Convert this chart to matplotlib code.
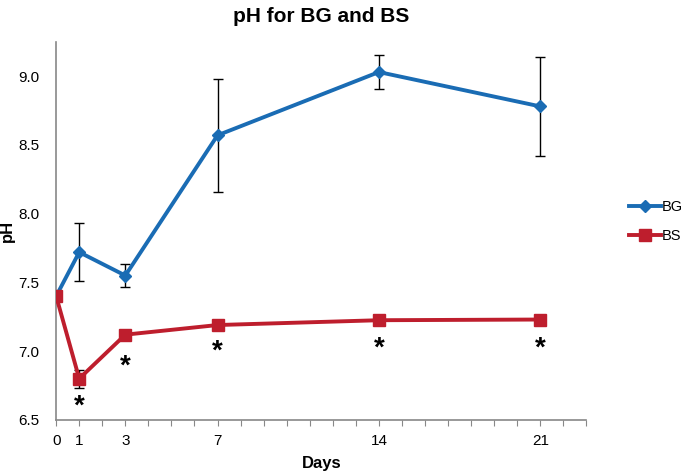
import matplotlib.pyplot as plt
from matplotlib.lines import Line2D

days = [0, 1, 3, 7, 14, 21]
bg = [7.40, 7.72, 7.55, 8.57, 9.03, 8.78]
bg_err = [0.0, 0.21, 0.085, 0.41, 0.125, 0.36]
bs = [7.40, 6.80, 7.12, 7.19, 7.225, 7.23]
bs_err = [0.0, 0.065, 0.02, 0.0, 0.0, 0.0]
star_days = [1, 3, 7, 14, 21]
star_y = [6.60, 6.89, 7.00, 7.02, 7.02]

plt.rcParams['font.family'] = ['Liberation Sans', 'DejaVu Sans']

fig = plt.figure(figsize=(6.85, 4.75), dpi=100)
ax = fig.add_axes([0.082, 0.116, 0.774, 0.796])

blue = '#1a6cb4'
red = '#be1e2d'
ax.errorbar(days, bg, yerr=bg_err, color=blue, lw=2.8, marker='D', ms=6,
            ecolor='black', elinewidth=1, capsize=3.5, capthick=1, zorder=3)
ax.errorbar(days, bs, yerr=bs_err, color=red, lw=2.8, marker='s', ms=9,
            ecolor='black', elinewidth=1, capsize=3.5, capthick=1, zorder=3)

for d, y in zip(star_days, star_y):
    ax.text(d, y, '*', ha='center', va='center', fontsize=20, fontweight='bold')

ax.set_xlim(0, 23)
ax.set_ylim(6.5, 9.25)
ax.set_xticks(range(0, 24))
ax.set_xticklabels([str(i) if i in days else '' for i in range(24)])
ax.set_yticks([6.5, 7.0, 7.5, 8.0, 8.5, 9.0])
ax.set_yticklabels(['6.5', '7.0', '7.5', '8.0', '8.5', '9.0'])
ax.tick_params(axis='x', direction='out', length=4, color='#888888', labelsize=11, pad=6)
ax.tick_params(axis='y', length=0, labelsize=11, pad=12)
for s in ['top', 'right']:
    ax.spines[s].set_visible(False)
for s in ['left', 'bottom']:
    ax.spines[s].set_color('#888888')
    ax.spines[s].set_linewidth(1.2)

ax.set_xlabel('Days', fontsize=12, fontweight='bold', labelpad=6)
ax.set_ylabel('pH', fontsize=12, fontweight='bold')
ax.yaxis.set_label_coords(-0.078, 0.5)
ax.set_title('pH for BG and BS', fontsize=15, fontweight='bold', pad=14)

handles = [Line2D([], [], color=blue, lw=2.8, marker='D', ms=6),
           Line2D([], [], color=red, lw=2.8, marker='s', ms=8)]
ax.legend(handles, ['BG', 'BS'], loc='center left', bbox_to_anchor=(1.055, 0.525),
          frameon=False, fontsize=10.5, handlelength=2.2, handletextpad=0.1,
          labelspacing=1.0)

fig.savefig('out.png', dpi=100)
